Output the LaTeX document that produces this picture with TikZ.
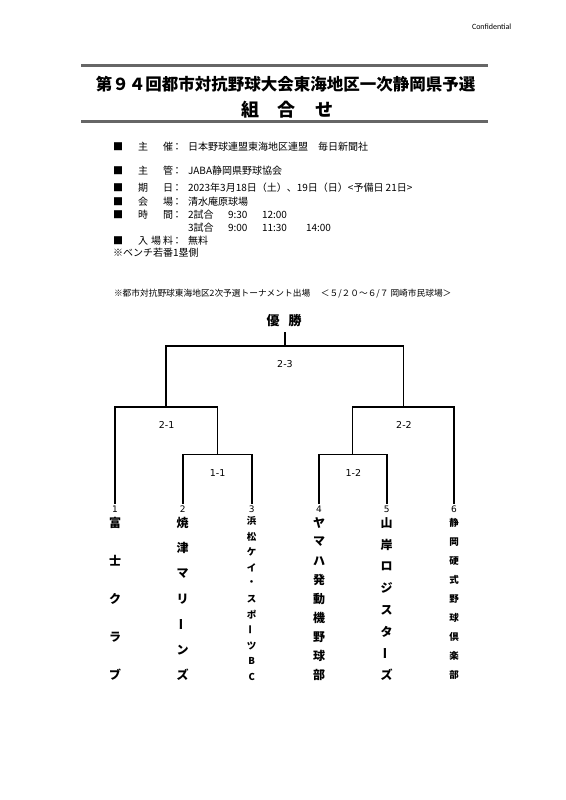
\documentclass[tikz,border=0pt]{standalone}
\usepackage{fontspec}
\setmainfont{Noto Sans CJK JP}
\newfontfamily\verd{DejaVu Sans}
\newfontfamily\calib{Carlito}
\newcommand\vbar{\rotatebox[origin=c]{90}{ー}}
\begin{document}
\begin{tikzpicture}[x=1pt,y=-1pt,
  every node/.style={inner sep=0pt, outer sep=0pt},
  info/.style={font=\fontsize{10}{12}\selectfont},
  infol/.style={info, anchor=west},
  lbl/.style={font=\verd\fontsize{9.5}{11}\selectfont},
  num/.style={font=\verd\fontsize{9}{11}\selectfont, inner sep=2pt},
  tm/.style={font=\bfseries\fontsize{12}{14}\selectfont},
  tms/.style={font=\bfseries\fontsize{9.5}{11}\selectfont},
  bracket/.style={line width=1.6pt, line join=miter},
  rulebar/.style={line width=2.6pt, draw=black!60}]
\path[use as bounding box, fill=white] (0,0) rectangle (565,800);

% confidential
\node[font=\calib\fontsize{8}{9}\selectfont, anchor=west] (conf) at (472,27) {Confidential};

% header
\coordinate (h1l) at (81,65.7); \coordinate (h1r) at (488,65.7);
\coordinate (h2l) at (81,121.7); \coordinate (h2r) at (488,121.7);
\draw[rulebar] (h1l) -- (h1r);
\draw[rulebar] (h2l) -- (h2r);
\node[font=\bfseries\fontsize{16.5}{18}\selectfont] (title) at (285.5,84) {第９４回都市対抗野球大会東海地区一次静岡県予選};
\node[font=\bfseries\fontsize{18}{20}\selectfont] (sub) at (287,110) {組\hspace{19pt}合\hspace{19pt}せ};

% info block
\foreach \y/\a/\b [count=\k] in {147/主/催,171/主/管,188/期/日,202/会/場,215/時/間}{
  \node[info] (sq\k) at (118,\y) {■};
  \node[info] (la\k) at (143,\y) {\a};
  \node[info] (lb\k) at (168,\y) {\b};
  \node[info] (co\k) at (177,\y) {：};
}
\node[infol] (c1) at (188,147) {日本野球連盟東海地区連盟　毎日新聞社};
\node[infol] (c2) at (188,171) {JABA静岡県野球協会};
\node[infol] (c3) at (188,188) {2023年3月18日（土）、19日（日）<予備日 21日>};
\node[infol] (c4) at (188,202) {清水庵原球場};
\node[infol] (c5) at (188,215) {2試合};
\node[infol] (c5a) at (228,215) {9:30};
\node[infol] (c5b) at (262,215) {12:00};
\node[infol] (c6) at (188,228) {3試合};
\node[infol] (c6a) at (228,228) {9:00};
\node[infol] (c6b) at (262,228) {11:30};
\node[infol] (c6c) at (306,228) {14:00};
\node[info] (sq7) at (118,241) {■};
\node[info] (l7a) at (143,241) {入};
\node[info] (l7b) at (156,241) {場};
\node[info] (l7c) at (168,241) {料};
\node[info] (co7) at (177,241) {：};
\node[infol] (c7) at (188,241) {無料};
\node[infol] (c8) at (113,253) {※ベンチ若番1塁側};

% note
\node[anchor=west, font=\fontsize{8.7}{10}\selectfont] (note) at (114,294) {※都市対抗野球東海地区2次予選トーナメント出場　 ＜５/２０～６/７ 岡崎市民球場＞};

% champion
\node[font=\bfseries\fontsize{13}{15}\selectfont, inner sep=2pt] (champ) at (284,320.7) {優\hspace{9pt}勝};

% team numbers
\node[num] (n1) at (115,509) {1};
\node[num] (n2) at (182.7,509) {2};
\node[num] (n3) at (251.7,509) {3};
\node[num] (n4) at (319,509) {4};
\node[num] (n5) at (386.7,509) {5};
\node[num] (n6) at (454,509) {6};

% junctions
\coordinate (j11) at (217.3,454.3);
\coordinate (j12) at (352.3,454.3);
\coordinate (j21) at (165.7,406.7);
\coordinate (j22) at (403.3,406.7);
\coordinate (j3) at (285,345.7);
\coordinate (jc) at (285,331.7);

\draw[bracket] (n2.north) |- (j11) -| (n3.north);
\draw[bracket] (n4.north) |- (j12) -| (n5.north);
\draw[bracket] (j11) |- (j21) -| (n1.north);
\draw[bracket] (j12) |- (j22) -| (n6.north);
\draw[bracket] (j21) |- (j3) -| (j22);
\draw[bracket] (j3) -- (jc);

% round labels
\node[lbl] (r23) at (285,364) {2-3};
\node[lbl] (r21) at (166.7,425) {2-1};
\node[lbl] (r22) at (404,425) {2-2};
\node[lbl] (r11) at (217.7,472.7) {1-1};
\node[lbl] (r12) at (353.3,472.7) {1-2};

% team names (vertical)
\foreach \c [count=\i] in {富,士,ク,ラ,ブ}
  \node[tm] (ta\i) at (115,{523+38*(\i-1)}) {\c};
\foreach \c [count=\i] in {焼,津,マ,リ,\vbar,ン,ズ}
  \node[tm] (tb\i) at (182.7,{523+25.33*(\i-1)}) {\c};
\foreach \c [count=\i] in {浜,松,ケ,イ,・,ス,ポ,\vbar,ツ,B,C}
  \node[tms] (tc\i) at (251.7,{521+15.6*(\i-1)}) {\c};
\foreach \c [count=\i] in {ヤ,マ,ハ,発,動,機,野,球,部}
  \node[tm] (td\i) at (319,{523+19*(\i-1)}) {\c};
\foreach \c [count=\i] in {山,岸,ロ,ジ,ス,タ,\vbar,ズ}
  \node[tm] (te\i) at (386.7,{523+21.71*(\i-1)}) {\c};
\foreach \c [count=\i] in {静,岡,硬,式,野,球,倶,楽,部}
  \node[tms] (tf\i) at (454,{523+19*(\i-1)}) {\c};
\end{tikzpicture}
\end{document}
